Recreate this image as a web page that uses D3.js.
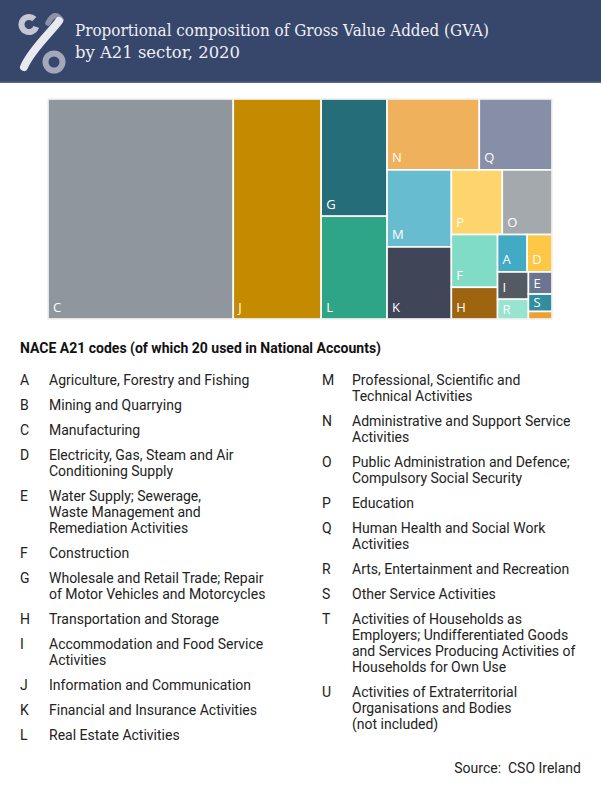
<!DOCTYPE html>
<html>
<head>
<meta charset="utf-8">
<script src="https://cdn.jsdelivr.net/npm/d3@7"></script>
<style>
  body { margin: 0; background: #fff; }
  svg { display: block; }
</style>
</head>
<body>
<svg></svg>
<script>
// GVA share (%) by NACE A21 sector, 2020
const codes   = ['C', 'J', 'G', 'L', 'N', 'Q', 'M', 'K', 'P', 'O', 'F', 'H', 'A', 'D', 'I', 'R', 'E', 'S', 'B'];
const shares  = [36.78, 17.45, 6.97, 6.11, 5.90, 4.65, 4.47, 4.18, 2.97, 2.90, 2.20, 1.32, 1.00, 0.84, 0.76, 0.55, 0.47, 0.37, 0.16];
const colours = ['#8f969e', '#c48a00', '#256d78', '#2ea586', '#efb15b', '#878ea8', '#68bcd0', '#414558', '#fed46c',
                 '#a4a9ae', '#80dcc5', '#9e6410', '#42aac3', '#fec745', '#545a61', '#98e4d0', '#6a7592', '#328e9e', '#f0a030'];

const leftCodes  = ['A', 'B', 'C', 'D', 'E', 'F', 'G', 'H', 'I', 'J', 'K', 'L'];
const leftNames  = [
    ['Agriculture, Forestry and Fishing'],
    ['Mining and Quarrying'],
    ['Manufacturing'],
    ['Electricity, Gas, Steam and Air', 'Conditioning Supply'],
    ['Water Supply; Sewerage,', 'Waste Management and', 'Remediation Activities'],
    ['Construction'],
    ['Wholesale and Retail Trade; Repair', 'of Motor Vehicles and Motorcycles'],
    ['Transportation and Storage'],
    ['Accommodation and Food Service', 'Activities'],
    ['Information and Communication'],
    ['Financial and Insurance Activities'],
    ['Real Estate Activities']
];
const rightCodes = ['M', 'N', 'O', 'P', 'Q', 'R', 'S', 'T', 'U'];
const rightNames = [
    ['Professional, Scientific and', 'Technical Activities'],
    ['Administrative and Support Service', 'Activities'],
    ['Public Administration and Defence;', 'Compulsory Social Security'],
    ['Education'],
    ['Human Health and Social Work', 'Activities'],
    ['Arts, Entertainment and Recreation'],
    ['Other Service Activities'],
    ['Activities of Households as', 'Employers; Undifferentiated Goods', 'and Services Producing Activities of', 'Households for Own Use'],
    ['Activities of Extraterritorial', 'Organisations and Bodies', '(not included)']
];

let width = 601;
let height = 800;
let mapLeft = 48;
let mapTop = 99;
let mapWidth = 504;
let mapHeight = 220;

const svg = d3.select('svg');

// same as d3.treemapSquarify but lets the target ratio go below 1
let squarifyTile = (ratio) => {
    return (parent, x0, y0, x1, y1) => {
        let nodes = parent.children;
        let value = parent.value;
        let i0 = 0, i1 = 0, n = nodes.length;
        while (i0 < n) {
            let dx = x1 - x0, dy = y1 - y0;
            let sumValue = nodes[i1++].value;
            let minValue = sumValue, maxValue = sumValue;
            let alpha = Math.max(dy / dx, dx / dy) / (value * ratio);
            let beta = sumValue * sumValue * alpha;
            let minRatio = Math.max(maxValue / beta, beta / minValue);
            for (; i1 < n; ++i1) {
                let nodeValue = nodes[i1].value;
                sumValue += nodeValue;
                if (nodeValue < minValue) minValue = nodeValue;
                if (nodeValue > maxValue) maxValue = nodeValue;
                beta = sumValue * sumValue * alpha;
                let newRatio = Math.max(maxValue / beta, beta / minValue);
                if (newRatio > minRatio) { sumValue -= nodeValue; break; }
                minRatio = newRatio;
            }
            let row = {value: sumValue, children: nodes.slice(i0, i1)};
            if (dx < dy) d3.treemapDice(row, x0, y0, x1, y0 += dy * sumValue / value);
            else d3.treemapSlice(row, x0, y0, x0 += dx * sumValue / value, y1);
            value -= sumValue;
            i0 = i1;
        }
    }
}

let drawCanvas = () => {
    svg.attr('width', width)
       .attr('height', height);
}

let drawHeader = () => {
    svg.append('rect')
       .attr('x', 0).attr('y', 0)
       .attr('width', width).attr('height', 83)
       .attr('fill', '#37466b');
    svg.append('rect')
       .attr('x', 0).attr('y', 81.5)
       .attr('width', width).attr('height', 1.5)
       .attr('fill', '#56658a');

    // logo
    let logo = svg.append('g');
    logo.append('path')
        .attr('transform', 'translate(29,24.5)')
        .attr('d', d3.arc().innerRadius(4.5).outerRadius(10.5).startAngle(Math.PI * 0.6).endAngle(Math.PI * 2.25)())
        .attr('fill', '#c5c8d2');
    logo.append('path')
        .attr('transform', 'translate(54,62)')
        .attr('d', d3.arc().innerRadius(5.5).outerRadius(11.5)
                     .startAngle(0).endAngle(Math.PI * 2)())
        .attr('fill', '#a3a9bb');
    logo.append('path')
        .attr('d', 'M48,23 Q55,10 61,20')
        .attr('fill', 'none')
        .attr('stroke', '#8c93a9')
        .attr('stroke-width', 5.5)
        .attr('stroke-linecap', 'round');
    logo.append('path')
        .attr('d', 'M59,21 C52,31 31,50 24,67')
        .attr('fill', 'none')
        .attr('stroke', '#e8eaf0')
        .attr('stroke-width', 8)
        .attr('stroke-linecap', 'round');

    let title = svg.append('text')
       .attr('fill', '#eef0f5')
       .style('font-family', '"DejaVu Serif", serif')
       .style('font-size', '17px');
    title.append('tspan')
         .attr('x', 75).attr('y', 36)
         .attr('textLength', 414)
         .attr('lengthAdjust', 'spacingAndGlyphs')
         .text('Proportional composition of Gross Value Added (GVA)');
    title.append('tspan')
         .attr('x', 75).attr('y', 58)
         .attr('textLength', 165)
         .attr('lengthAdjust', 'spacingAndGlyphs')
         .text('by A21 sector, 2020');
}

let drawTreemap = () => {
    let root = d3.hierarchy({
                    children: codes.map((c, i) => {
                        return {code: c, value: shares[i], colour: colours[i]};
                    })
                })
                .sum((d) => d.value)
                .sort((a, b) => b.value - a.value);

    d3.treemap()
      .tile(squarifyTile(0.83))
      .size([mapWidth, mapHeight])(root);

    let cells = svg.append('g')
                   .attr('transform', 'translate(' + mapLeft + ', ' + mapTop + ')')
                   .selectAll('g')
                   .data(root.leaves())
                   .enter()
                   .append('g');

    cells.append('rect')
         .attr('x', (d) => d.x0)
         .attr('y', (d) => d.y0)
         .attr('width', (d) => d.x1 - d.x0)
         .attr('height', (d) => d.y1 - d.y0)
         .attr('fill', (d) => d.data.colour)
         .attr('stroke', '#ffffff')
         .attr('stroke-width', 1.6);

    cells.filter((d) => (d.y1 - d.y0) > 12)
         .append('text')
         .attr('x', (d) => d.x0 + 5)
         .attr('y', (d) => d.y1 - Math.min(7.5, (d.y1 - d.y0) / 2 - 4.5))
         .attr('fill', '#ffffff')
         .style('font-family', '"Open Sans", "Noto Sans", sans-serif')
         .style('font-size', '13px')
         .text((d) => d.data.code);

    svg.append('rect')
       .attr('x', mapLeft).attr('y', mapTop)
       .attr('width', mapWidth).attr('height', mapHeight)
       .attr('fill', 'none')
       .attr('stroke', '#d6d6d6')
       .attr('stroke-width', 0.6);
}

let drawColumn = (letters, names, xCode, xName) => {
    let y = 385;
    letters.forEach((c, i) => {
        svg.append('text')
           .attr('x', xCode).attr('y', y)
           .attr('class', 'legend')
           .text(c);
        names[i].forEach((line, j) => {
            svg.append('text')
               .attr('x', xName).attr('y', y + j * 16)
               .attr('class', 'legend')
               .text(line);
        });
        y = y + names[i].length * 16 + 9;
    });
}

let drawLegend = () => {
    svg.append('text')
       .attr('x', 20).attr('y', 353)
       .attr('fill', '#111111')
       .style('font-family', 'Roboto, sans-serif')
       .style('font-size', '14px')
       .style('font-weight', 'bold')
       .text('NACE A21 codes (of which 20 used in National Accounts)');

    drawColumn(leftCodes, leftNames, 20, 49);
    drawColumn(rightCodes, rightNames, 322, 352);

    svg.selectAll('.legend')
       .attr('fill', '#222222')
       .style('font-family', 'Roboto, sans-serif')
       .style('font-size', '14px');

    svg.append('text')
       .attr('x', 581).attr('y', 773)
       .attr('text-anchor', 'end')
       .attr('fill', '#222222')
       .style('font-family', 'Roboto, sans-serif')
       .style('font-size', '14px')
       .style('white-space', 'pre')
       .text('Source:  CSO Ireland');
}

drawCanvas();
drawHeader();
drawTreemap();
drawLegend();
</script>
</body>
</html>
